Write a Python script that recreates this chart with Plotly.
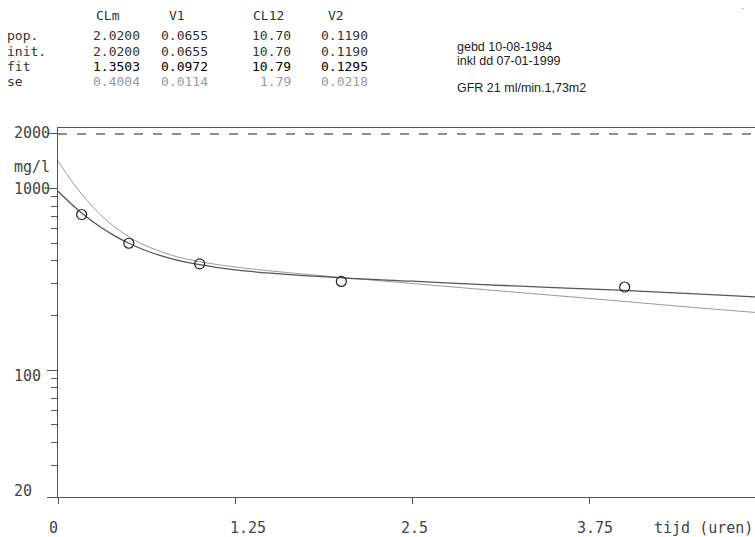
import math
import plotly.graph_objects as go

# ---------------- data ----------------
curve_t = [0, 0.1, 0.2, 0.3, 0.4, 0.5, 0.6, 0.8, 1.0, 1.25, 1.5, 2.0, 2.5, 3.0, 3.5, 4.0, 4.5, 4.92]
fit_conc = [967, 815, 700, 614, 549, 500, 462, 411, 381, 357, 342, 322, 309, 296, 285, 275, 263, 253]
pop_conc = [1417, 1091, 870, 718, 615, 543, 492, 430, 396, 370, 352, 324, 300, 278, 258, 239, 221, 208]

obs_t = [0.167, 0.5, 1.0, 2.0, 4.0]
obs_conc = [720, 500, 385, 308, 287]

limit_level = 2000

x_ticks = [0, 1.25, 2.5, 3.75]
x_tick_labels = ["0", "1.25", "2.5", "3.75"]
y_major = [20, 100, 1000, 2000]
y_major_labels = ["20", "100", "1000", "2000"]
y_minor = [30, 40, 50, 60, 70, 80, 90, 200, 300, 400, 500, 600, 700, 800, 900]

param_names = ["CLm", "V1", "CL12", "V2"]
row_names = ["pop.", "init.", "fit", "se"]
pop_vals = [2.0200, 0.0655, 10.70, 0.1190]
init_vals = [2.0200, 0.0655, 10.70, 0.1190]
fit_vals = [1.3503, 0.0972, 10.79, 0.1295]
se_vals = [0.4004, 0.0114, 1.79, 0.0218]
param_formats = ["{:.4f}", "{:.4f}", "{:.2f}", "{:.4f}"]

info_lines = ["gebd 10-08-1984", "inkl dd 07-01-1999", "", "GFR 21 ml/min.1,73m2"]
x_title = "tijd (uren)"
y_unit = "mg/l"

x_max = 4.92
y_range_log = [math.log10(20), 3.334]

# ---------------- layout helpers ----------------
W, H = 755, 537
ML, MR, MT, MB = 58, 0, 128, 40
PW, PH = W - ML - MR, H - MT - MB


def px(x):
    return (x - ML) / PW


def py(y):
    return (H - MB - y) / PH


MONO = "DejaVu Sans Mono"
SANS = "Liberation Sans"

fig = go.Figure()

fig.add_trace(go.Scatter(
    x=[0, x_max], y=[limit_level, limit_level], mode="lines",
    line=dict(color="#6a6a6a", width=1.5, dash="9px,10px"), hoverinfo="skip"))

fig.add_trace(go.Scatter(
    x=curve_t, y=pop_conc, mode="lines", line_shape="spline",
    line=dict(color="#9a9a9a", width=1), name="pop"))

fig.add_trace(go.Scatter(
    x=curve_t, y=fit_conc, mode="lines", line_shape="spline",
    line=dict(color="#555555", width=1.3), name="fit"))

fig.add_trace(go.Scatter(
    x=obs_t, y=obs_conc, mode="markers",
    marker=dict(symbol="circle-open", size=10, color="#222222", line=dict(width=1.2)),
    name="obs"))

ann = []

# x tick labels
x_label_shift = [-5, 13, 2, 6]
for v, lab, s in zip(x_ticks, x_tick_labels, x_label_shift):
    ann.append(dict(x=v, y=0, xref="x", yref="paper", text=lab, showarrow=False,
                    xanchor="center", yanchor="middle", yshift=-(528 - (H - MB)),
                    xshift=s, font=dict(family=MONO, size=15, color="#444444")))
ann.append(dict(x=px(652), y=py(528), xref="paper", yref="paper", text=x_title,
                showarrow=False, xanchor="left", yanchor="middle",
                font=dict(family=MONO, size=15, color="#444444")))

# y tick labels (left aligned at x=12)
y_label_shift = [6, -6, 0, 1]
for v, lab, s in zip(y_major, y_major_labels, y_label_shift):
    ann.append(dict(x=px(12), y=math.log10(v), xref="paper", yref="y", text=lab,
                    showarrow=False, xanchor="left", yanchor="middle", yshift=s,
                    font=dict(family=MONO, size=15, color="#444444")))
ann.append(dict(x=px(12), y=py(167), xref="paper", yref="paper", text=y_unit,
                showarrow=False, xanchor="left", yanchor="middle",
                font=dict(family=MONO, size=15, color="#444444")))

# parameter table
TS = 13
head_cx = [108, 177, 268, 336]
col_right = [142, 210, 293, 370]
row_y = [36, 51, 66, 81]
row_colors = ["#333333", "#333333", "#000000", "#9a9a9a"]
for name, cx in zip(param_names, head_cx):
    ann.append(dict(x=px(cx), y=py(15), xref="paper", yref="paper", text=name,
                    showarrow=False, xanchor="center", yanchor="middle",
                    font=dict(family=MONO, size=TS, color="#333333")))
for rname, vals, ry, col in zip(row_names, [pop_vals, init_vals, fit_vals, se_vals],
                                row_y, row_colors):
    ann.append(dict(x=px(5), y=py(ry), xref="paper", yref="paper", text=rname,
                    showarrow=False, xanchor="left", yanchor="middle",
                    font=dict(family=MONO, size=TS, color="#333333")))
    for v, fmt, cr in zip(vals, param_formats, col_right):
        ann.append(dict(x=px(cr), y=py(ry), xref="paper", yref="paper", text=fmt.format(v),
                        showarrow=False, xanchor="right", yanchor="middle",
                        font=dict(family=MONO, size=TS, color=col)))

# info text
info_y = [47, 61, 75, 88]
for line, iy in zip(info_lines, info_y):
    if line:
        ann.append(dict(x=px(455), y=py(iy), xref="paper", yref="paper", text=line,
                        showarrow=False, xanchor="left", yanchor="middle",
                        font=dict(family=SANS, size=12.5, color="#222222")))
ann.append(dict(x=px(742), y=py(5), xref="paper", yref="paper", text=".",
                showarrow=False, xanchor="center", yanchor="middle",
                font=dict(family=SANS, size=10, color="#666666")))

fig.update_layout(
    width=W, height=H,
    margin=dict(l=ML, r=MR, t=MT, b=MB, pad=0),
    paper_bgcolor="white", plot_bgcolor="white",
    showlegend=False,
    annotations=ann,
    xaxis=dict(range=[0, x_max], tickmode="array", tickvals=x_ticks, showticklabels=False,
               ticks="outside", ticklen=6, tickcolor="#555555", showgrid=False, zeroline=False,
               showline=True, linecolor="#555555", linewidth=1, mirror=True),
    yaxis=dict(type="log", range=y_range_log, tickmode="array", tickvals=y_major,
               showticklabels=False, ticks="outside", ticklen=10, tickcolor="#555555",
               showgrid=False, zeroline=False, showline=True, linecolor="#555555", linewidth=1,
               minor=dict(tickmode="array", tickvals=y_minor, ticks="outside", ticklen=6,
                          tickcolor="#555555", showgrid=False)),
)

fig.write_html("out.html")
